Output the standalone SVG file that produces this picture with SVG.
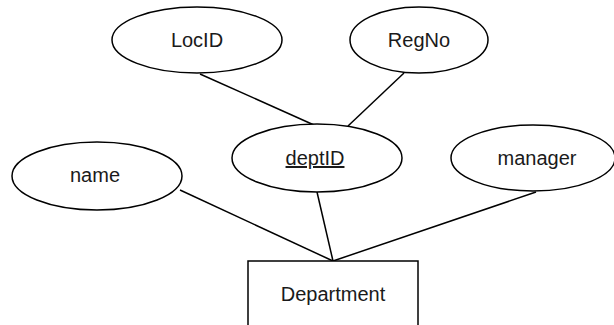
<svg xmlns="http://www.w3.org/2000/svg" width="614" height="325" viewBox="0 0 614 325">
<style>
.shape{fill:#ffffff;stroke:#000000;stroke-width:1.5}
.lbl{font-family:"Liberation Sans",Arial,sans-serif;font-size:20px;fill:#1a1a1a;text-anchor:middle}
.conn line{stroke:#000000;stroke-width:1.5}
</style>
<rect width="614" height="325" fill="#ffffff"/>
<g id="connectors" class="conn">
<line x1="200" y1="74" x2="314" y2="125"/>
<line x1="404" y1="73" x2="348" y2="126"/>
<line x1="180" y1="190" x2="333" y2="261"/>
<line x1="317" y1="192" x2="333" y2="261"/>
<line x1="536" y1="192" x2="333" y2="261"/>
</g>
<g id="LocID">
<ellipse class="shape" cx="197" cy="40" rx="85" ry="33"/>
<text class="lbl" x="197" y="47">LocID</text>
</g>
<g id="RegNo">
<ellipse class="shape" cx="419" cy="40" rx="69" ry="33"/>
<text class="lbl" x="419" y="47">RegNo</text>
</g>
<g id="deptID">
<ellipse class="shape" cx="317" cy="158" rx="85" ry="34"/>
<text class="lbl" x="315" y="165" text-decoration="underline">deptID</text>
</g>
<g id="name">
<ellipse class="shape" cx="97" cy="176" rx="85" ry="34"/>
<text class="lbl" x="95" y="182">name</text>
</g>
<g id="manager">
<ellipse class="shape" cx="533" cy="158" rx="82" ry="33"/>
<text class="lbl" x="537" y="165">manager</text>
</g>
<g id="Department">
<rect class="shape" x="248" y="261" width="170" height="80"/>
<text class="lbl" x="333" y="301">Department</text>
</g>
</svg>
